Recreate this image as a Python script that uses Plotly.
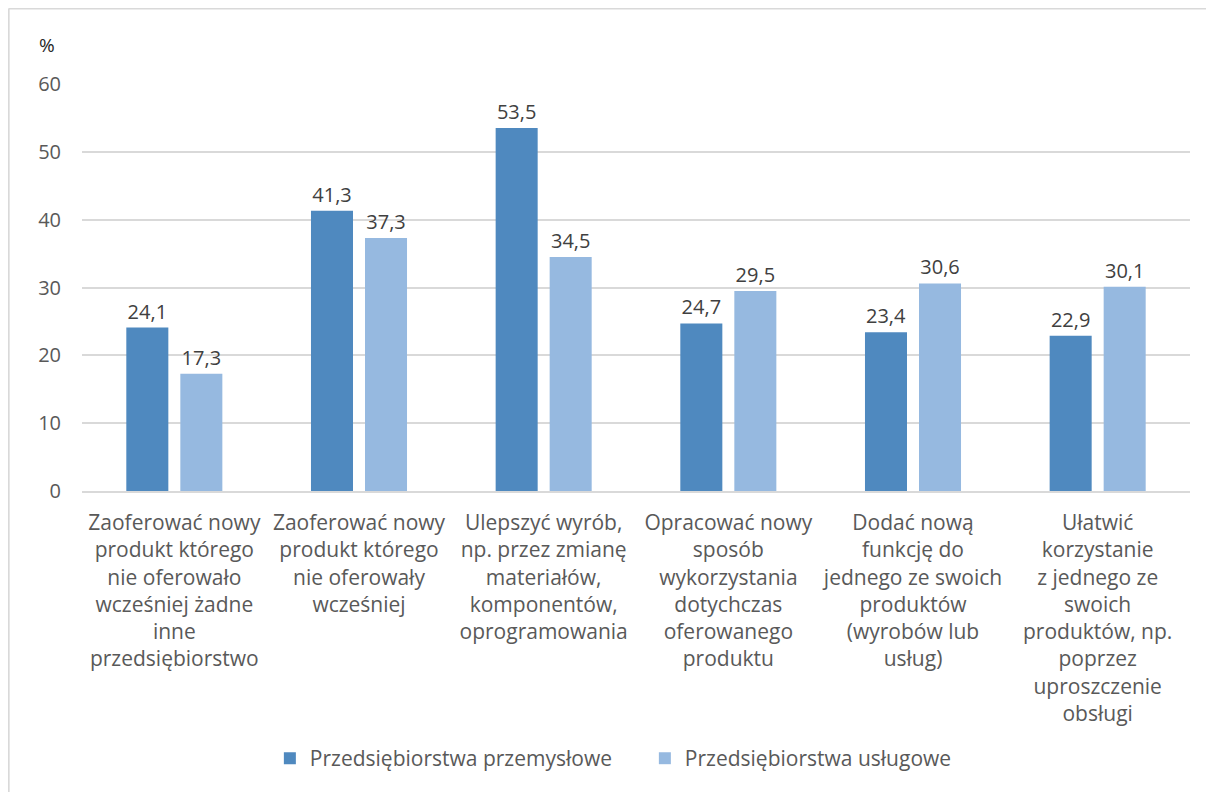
import plotly.graph_objects as go

categories = [
    "Zaoferować nowy<br>produkt którego<br>nie oferowało<br>wcześniej żadne<br>inne<br>przedsiębiorstwo",
    "Zaoferować nowy<br>produkt którego<br>nie oferowały<br>wcześniej",
    "Ulepszyć wyrób,<br>np. przez zmianę<br>materiałów,<br>komponentów,<br>oprogramowania",
    "Opracować nowy<br>sposób<br>wykorzystania<br>dotychczas<br>oferowanego<br>produktu",
    "Dodać nową<br>funkcję do<br>jednego ze swoich<br>produktów<br>(wyrobów lub<br>usług)",
    "Ułatwić<br>korzystanie<br>z jednego ze<br>swoich<br>produktów, np.<br>poprzez<br>uproszczenie<br>obsługi",
]
przemyslowe = [24.1, 41.3, 53.5, 24.7, 23.4, 22.9]
uslugowe = [17.3, 37.3, 34.5, 29.5, 30.6, 30.1]
series_names = ["Przedsiębiorstwa przemysłowe", "Przedsiębiorstwa usługowe"]
y_ticks = [0, 10, 20, 30, 40, 50, 60]

FONT = "Open Sans"
fig = go.Figure()
fig.add_trace(go.Bar(
    x=categories, y=przemyslowe, name=series_names[0],
    marker=dict(color="#4F89BF", line=dict(width=0)),
    texttemplate="%{y:.1f}", textposition="outside",
    textfont=dict(family=FONT, size=20, color="#404040"), cliponaxis=False,
))
fig.add_trace(go.Bar(
    x=categories, y=uslugowe, name=series_names[1],
    marker=dict(color="#96B9E0", line=dict(width=0)),
    texttemplate="%{y:.1f}", textposition="outside",
    textfont=dict(family=FONT, size=20, color="#404040"), cliponaxis=False,
))

fig.update_layout(
    width=1206, height=784,
    margin=dict(l=74, r=24, t=76, b=301, autoexpand=False),
    paper_bgcolor="white", plot_bgcolor="white",
    separators=", ",
    barmode="group", bargap=0.415, bargroupgap=0.222,
    font=dict(family=FONT, size=20, color="#595959"),
    showlegend=True,
    legend=dict(orientation="h", x=0.508, xanchor="center", y=-0.607, yanchor="top",
                font=dict(family=FONT, size=21, color="#595959"), traceorder="normal",
                itemwidth=30, entrywidth=330),
    uniformtext=dict(mode="show", minsize=10),
)
fig.update_xaxes(showgrid=False, showline=True, linecolor="#D9D9D9", linewidth=1.5,
                 ticks="", tickangle=0, ticklabelstandoff=12,
                 tickfont=dict(family=FONT, size=21, color="#595959"))
fig.update_yaxes(range=[0, 60], tickvals=y_ticks, showgrid=True, gridcolor="#D9D9D9", gridwidth=1.5,
                 zeroline=False, showline=False, ticks="", ticklabelstandoff=20,
                 tickfont=dict(family=FONT, size=20, color="#595959"))

fig.add_annotation(text="%", xref="paper", yref="paper", x=-0.032, y=1.096,
                   showarrow=False, font=dict(family=FONT, size=19, color="#262626"),
                   xanchor="center", yanchor="middle")

# outer chart frame (top and left edges visible)
fig.add_shape(type="line", xref="paper", yref="paper", x0=-0.0662, x1=1.05, y0=1.1855, y1=1.1855,
              line=dict(color="#D9D9D9", width=2))
fig.add_shape(type="line", xref="paper", yref="paper", x0=-0.0662, x1=-0.0662, y0=1.1855, y1=-0.8,
              line=dict(color="#D9D9D9", width=2))

fig.write_html("out.html")
